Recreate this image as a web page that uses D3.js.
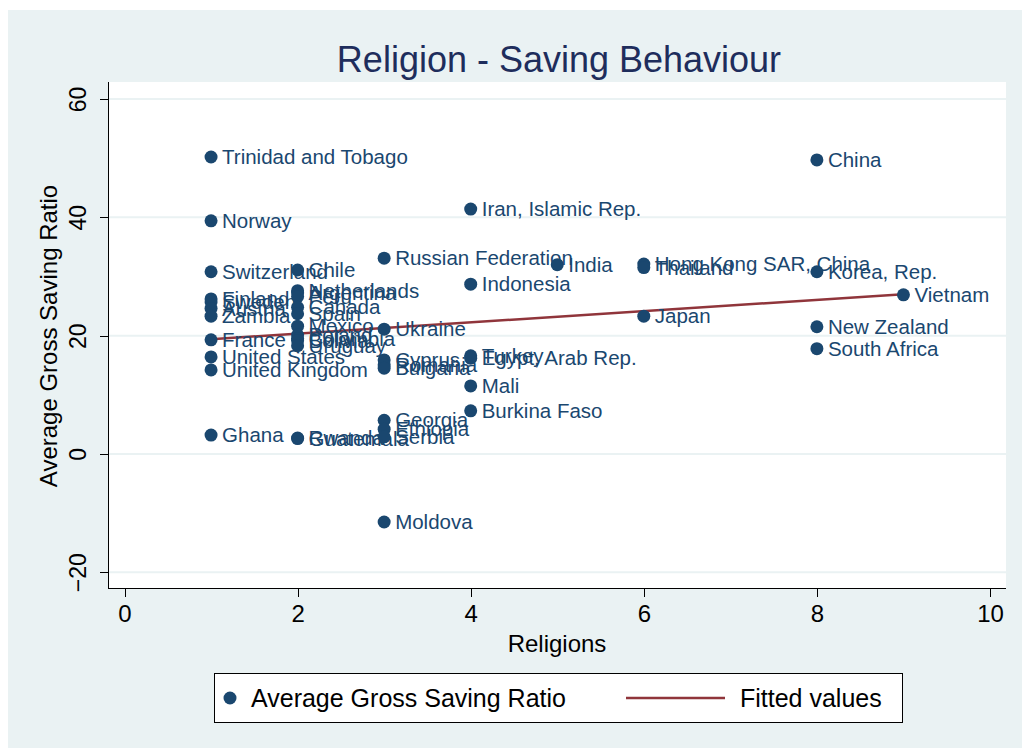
<!DOCTYPE html>
<meta charset="utf-8">
<script src="https://cdn.jsdelivr.net/npm/d3@7"></script>
<style>
    body { margin: 0; background: #fff; }
    text { font-family: "Liberation Sans", Arial, sans-serif; }
    .axis path, .axis line { stroke: #000; shape-rendering: crispEdges; }
    .axis text { fill: #000; }
</style>
<body>
<svg class="chart"></svg>
<script>
    ///////////////////////
    // Data
    var countries = [
        "Trinidad and Tobago", "Norway", "Switzerland", "Finland", "Sweden", "Austria", "Zambia",
        "France", "United States", "United Kingdom", "Ghana",
        "Chile", "Netherlands", "Argentina", "Peru", "Canada", "Spain", "Mexico", "Poland",
        "Colombia", "Bolivia", "Uruguay", "Rwanda", "Guatemala",
        "Russian Federation", "Ukraine", "Cyprus", "Romania", "Bulgaria", "Georgia", "Ethiopia",
        "Serbia", "Moldova",
        "Iran, Islamic Rep.", "Indonesia", "Turkey", "Egypt, Arab Rep.", "Mali", "Burkina Faso",
        "India",
        "Hong Kong SAR, China", "Thailand", "Japan",
        "China", "Korea, Rep.", "New Zealand", "South Africa",
        "Vietnam"
    ];
    var religions = [
        1, 1, 1, 1, 1, 1, 1, 1, 1, 1, 1,
        2, 2, 2, 2, 2, 2, 2, 2, 2, 2, 2, 2, 2,
        3, 3, 3, 3, 3, 3, 3, 3, 3,
        4, 4, 4, 4, 4, 4,
        5,
        6, 6, 6,
        8, 8, 8, 8,
        9
    ];
    var saving = [
        50.2, 39.4, 30.8, 26.2, 25.7, 24.6, 23.3, 19.3, 16.4, 14.2, 3.2,
        31.1, 27.6, 27.2, 26.6, 24.8, 23.7, 21.6, 20.1, 19.5, 19.2, 18.3, 2.7, 2.6,
        33.1, 21.1, 15.9, 15.1, 14.5, 5.7, 4.2, 2.9, -11.5,
        41.4, 28.7, 16.6, 16.2, 11.5, 7.3,
        32.0,
        32.1, 31.5, 23.3,
        49.7, 30.8, 21.5, 17.8,
        26.9
    ];
    // fitted values (read at the ends of the line)
    var fitX = [1, 9];
    var fitY = [19.4, 27.0];

    var xTicks = [0, 2, 4, 6, 8, 10];
    var yTicks = [-20, 0, 20, 40, 60];

    var data = countries.map(function(c, i) {
        return { country: c, religions: religions[i], saving: saving[i] };
    });

    ///////////////////////
    // Chart Size Setup
    var W = 1028, H = 751;
    var plot = { left: 108, right: 1006, top: 82, bottom: 588 };

    var svg = d3.select(".chart")
        .attr("width", W)
        .attr("height", H);

    var navy = "#1a476f", maroon = "#90353b", bg = "#eaf2f3";

    // outer background
    svg.append("rect")
        .attr("x", 8).attr("y", 10)
        .attr("width", 1014).attr("height", 738)
        .attr("fill", bg);

    // plot region
    svg.append("rect")
        .attr("x", plot.left).attr("y", plot.top)
        .attr("width", plot.right - plot.left).attr("height", plot.bottom - plot.top)
        .attr("fill", "#fff");

    ///////////////////////
    // Scales
    var x = d3.scaleLinear().domain([0, 10]).range([124.5, 990]);
    var y = d3.scaleLinear().domain([-20, 60]).range([572.3, 99]);

    // grid
    svg.append("g")
        .selectAll("line")
        .data(yTicks)
        .enter().append("line")
        .attr("x1", plot.left).attr("x2", plot.right)
        .attr("y1", function(d) { return y(d); })
        .attr("y2", function(d) { return y(d); })
        .attr("stroke", bg)
        .attr("stroke-width", 2);

    ///////////////////////
    // Axis
    var xAxis = svg.append("g")
        .attr("class", "x axis")
        .attr("transform", "translate(0," + plot.bottom + ")")
        .call(d3.axisBottom(x).tickValues(xTicks).tickSize(9).tickPadding(8).tickSizeOuter(0));
    xAxis.select(".domain").attr("d", "M" + plot.left + ",0.5H" + plot.right);
    xAxis.selectAll("text").style("font-size", "24px");

    var yAxis = svg.append("g")
        .attr("class", "y axis")
        .attr("transform", "translate(" + plot.left + ",0)")
        .call(d3.axisLeft(y).tickValues(yTicks).tickSize(8).tickSizeOuter(0));
    yAxis.select(".domain").attr("d", "M0.5," + plot.top + "V" + plot.bottom);
    yAxis.selectAll("text")
        .style("font-size", "23px")
        .attr("x", null).attr("dy", null)
        .attr("text-anchor", "middle")
        .attr("transform", "translate(-22,0) rotate(-90)");

    ///////////////////////
    // Titles
    svg.append("text")
        .text("Religion - Saving Behaviour")
        .attr("x", 559).attr("y", 72)
        .attr("text-anchor", "middle")
        .attr("fill", "#1e2d5c")
        .style("font-size", "36px");

    svg.append("text")
        .text("Religions")
        .attr("x", 557).attr("y", 652)
        .attr("text-anchor", "middle")
        .attr("fill", "#000")
        .style("font-size", "24px");

    svg.append("text")
        .text("Average Gross Saving Ratio")
        .attr("transform", "translate(57,336) rotate(-90)")
        .attr("text-anchor", "middle")
        .attr("fill", "#000")
        .style("font-size", "24px");

    ///////////////////////
    // Fitted line
    var line = d3.line()
        .x(function(d) { return x(d[0]); })
        .y(function(d) { return y(d[1]); });

    svg.append("path")
        .datum(fitX.map(function(v, i) { return [v, fitY[i]]; }))
        .attr("fill", "none")
        .attr("stroke", maroon)
        .attr("stroke-width", 2.5)
        .attr("d", line);

    ///////////////////////
    // Nodes + labels
    var nodes = svg.append("g");
    nodes.selectAll("circle")
        .data(data)
        .enter().append("circle")
        .attr("cx", function(d) { return x(d.religions); })
        .attr("cy", function(d) { return y(d.saving); })
        .attr("r", 6.5)
        .attr("fill", navy);

    nodes.selectAll("text")
        .data(data)
        .enter().append("text")
        .text(function(d) { return d.country; })
        .attr("x", function(d) { return x(d.religions) + 11; })
        .attr("y", function(d) { return y(d.saving); })
        .attr("dy", "0.35em")
        .attr("fill", navy)
        .style("font-size", "20.5px");

    ///////////////////////
    // Legend
    var legend = svg.append("g");
    legend.append("rect")
        .attr("x", 214.5).attr("y", 673.5)
        .attr("width", 688).attr("height", 49)
        .attr("fill", "#fff")
        .attr("stroke", "#000");
    legend.append("circle")
        .attr("cx", 230).attr("cy", 698).attr("r", 6.5)
        .attr("fill", navy);
    legend.append("text")
        .text("Average Gross Saving Ratio")
        .attr("x", 251).attr("y", 698).attr("dy", "0.35em")
        .style("font-size", "25px");
    legend.append("line")
        .attr("x1", 626).attr("x2", 725)
        .attr("y1", 698).attr("y2", 698)
        .attr("stroke", maroon).attr("stroke-width", 2.5);
    legend.append("text")
        .text("Fitted values")
        .attr("x", 740).attr("y", 698).attr("dy", "0.35em")
        .style("font-size", "25px");
</script>
</body>
